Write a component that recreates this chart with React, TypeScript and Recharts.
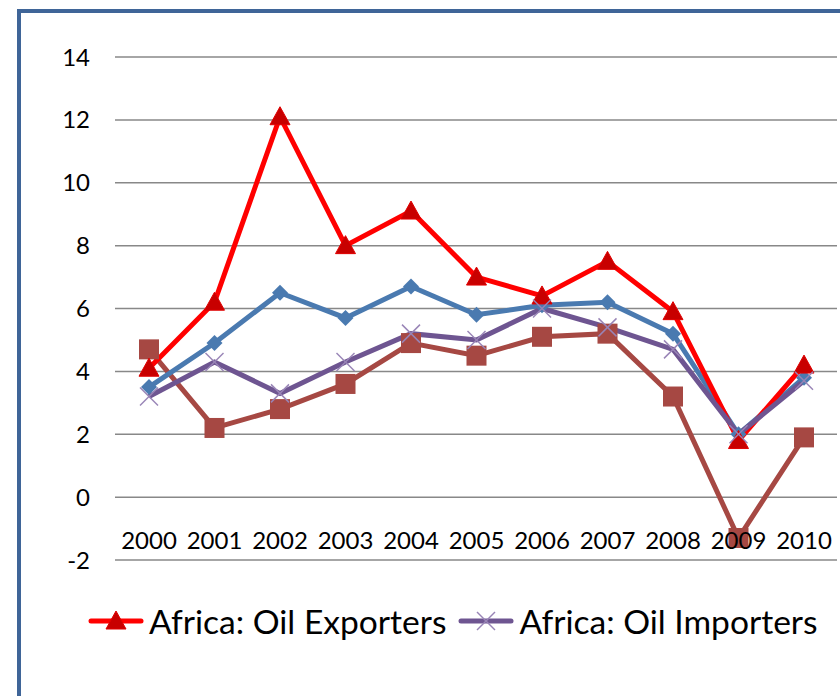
import { CartesianGrid, Legend, Line, LineChart, XAxis, YAxis } from 'recharts'

const years = ['2000', '2001', '2002', '2003', '2004', '2005', '2006', '2007', '2008', '2009', '2010']
const oilExporters = [4.1, 6.2, 12.1, 8.0, 9.1, 7.0, 6.4, 7.5, 5.9, 1.8, 4.2]
const africa = [3.5, 4.9, 6.5, 5.7, 6.7, 5.8, 6.1, 6.2, 5.2, 2.0, 3.8]
const oilImporters = [3.2, 4.3, 3.3, 4.3, 5.2, 5.0, 6.0, 5.4, 4.7, 2.0, 3.7]
const world = [4.7, 2.2, 2.8, 3.6, 4.9, 4.5, 5.1, 5.2, 3.2, -1.3, 1.9]
const yTicks = [-2, 0, 2, 4, 6, 8, 10, 12, 14]

const chartData = years.map((year, i) => ({
  year,
  world: world[i],
  africa: africa[i],
  oilImporters: oilImporters[i],
  oilExporters: oilExporters[i],
}))

const fontFamily = 'Lato, "Open Sans", sans-serif'

type MarkerProps = { cx?: number; cy?: number; index?: number }

function triangle(cx: number, cy: number, key?: number) {
  return (
    <path
      key={key}
      d={`M${cx},${cy - 10} L${cx + 10},${cy + 8} L${cx - 10},${cy + 8} Z`}
      fill="#c80000"
      stroke="#e00000"
      strokeWidth={1}
    />
  )
}

function diamond(cx: number, cy: number, key?: number) {
  return (
    <path
      key={key}
      d={`M${cx},${cy - 8} L${cx + 8},${cy} L${cx},${cy + 8} L${cx - 8},${cy} Z`}
      fill="#4a7ab0"
    />
  )
}

function square(cx: number, cy: number, key?: number) {
  return <rect key={key} x={cx - 10} y={cy - 10} width={20} height={20} fill="#a64843" />
}

function cross(cx: number, cy: number, key?: number) {
  return (
    <g key={key} stroke="#9884b6" strokeWidth={1.5}>
      <line x1={cx - 9} y1={cy - 9} x2={cx + 9} y2={cy + 9} />
      <line x1={cx - 9} y1={cy + 9} x2={cx + 9} y2={cy - 9} />
    </g>
  )
}

const seriesStyle: Record<string, { color: string; marker: typeof triangle }> = {
  oilExporters: { color: '#ff0000', marker: triangle },
  oilImporters: { color: '#6e5591', marker: cross },
}

function dotOf(marker: typeof triangle) {
  return (p: MarkerProps) => marker(p.cx ?? 0, p.cy ?? 0, p.index)
}

function YearTick({ x, y, payload }: { x?: number; y?: number; payload?: { value: string } }) {
  return (
    <text x={x} y={(y ?? 0) - 20} dy="0.36em" textAnchor="middle" fill="#000" fontSize={24} fontFamily={fontFamily}>
      {payload?.value}
    </text>
  )
}

function renderLegend(props: any) {
  const payload = (props.payload ?? []).filter((e: any) => seriesStyle[e.dataKey])
  return (
    <div style={{ display: 'flex', alignItems: 'center', height: 40, paddingLeft: 88, fontFamily }}>
      {payload.map((entry: any) => {
        const s = seriesStyle[entry.dataKey]
        return (
          <div key={entry.dataKey} style={{ display: 'flex', alignItems: 'center', marginRight: 12 }}>
            <svg width={56} height={26}>
              <line x1={3} y1={13} x2={53} y2={13} stroke={s.color} strokeWidth={5} strokeLinecap="round" />
              {s.marker(28, 13)}
            </svg>
            <span style={{ fontSize: 33.6, marginLeft: 5, color: '#000', whiteSpace: 'nowrap' }}>{entry.value}</span>
          </div>
        )
      })}
    </div>
  )
}

export default function App() {
  return (
    <div style={{ position: 'relative', width: 840, height: 696, overflow: 'hidden', background: '#fff' }}>
      <style>{'body{margin:0}'}</style>
      <div
        style={{
          position: 'absolute',
          left: 17,
          top: 9,
          width: 900,
          height: 900,
          border: '4px solid #3f6598',
          boxSizing: 'border-box',
        }}
      />
      <div style={{ position: 'absolute', left: 0, top: 0 }}>
        <LineChart width={840} height={696} data={chartData} margin={{ top: 57, right: 3, left: 0, bottom: 55 }}>
          <CartesianGrid horizontal vertical={false} stroke="#888888" strokeWidth={1.5} />
          <XAxis
            dataKey="year"
            axisLine={false}
            tickLine={false}
            tickSize={0}
            tickMargin={0}
            height={41}
            interval={0}
            padding={{ left: 34, right: 33 }}
            tick={<YearTick />}
          />
          <YAxis
            domain={[-2, 14]}
            ticks={yTicks}
            axisLine={false}
            tickLine={false}
            tickSize={0}
            tickMargin={25}
            width={115}
            tick={{ fill: '#000', fontSize: 24, fontFamily }}
          />
          <Legend verticalAlign="bottom" align="left" height={40} content={renderLegend} />
          <Line
            dataKey="world"
            name="World"
            stroke="#a64843"
            strokeWidth={5}
            dot={dotOf(square)}
            legendType="none"
            isAnimationActive={false}
          />
          <Line
            dataKey="africa"
            name="Africa"
            stroke="#4a7ab0"
            strokeWidth={5}
            dot={dotOf(diamond)}
            legendType="none"
            isAnimationActive={false}
          />
          <Line
            dataKey="oilExporters"
            name="Africa: Oil Exporters"
            stroke="#ff0000"
            strokeWidth={5}
            dot={dotOf(triangle)}
            isAnimationActive={false}
          />
          <Line
            dataKey="oilImporters"
            name="Africa: Oil Importers"
            stroke="#6e5591"
            strokeWidth={5}
            dot={dotOf(cross)}
            isAnimationActive={false}
          />
        </LineChart>
      </div>
    </div>
  )
}
